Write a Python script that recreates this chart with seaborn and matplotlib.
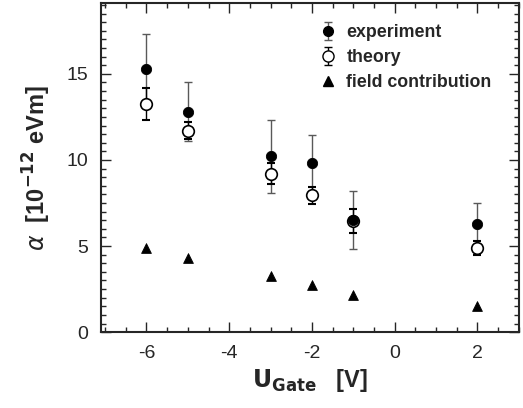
import matplotlib
matplotlib.use("Agg")
import matplotlib.pyplot as plt
import seaborn as sns
import numpy as np
from matplotlib.ticker import MultipleLocator
from matplotlib.lines import Line2D

# ---------------------------------------------------------
# Data
# ---------------------------------------------------------

gate_voltage = [-6, -5, -3, -2, -1, 2]

experiment = [15.3, 12.8, 10.2, 9.8, 6.5, 6.3]
experiment_err = [2.0, 1.7, 2.1, 1.65, 1.7, 1.2]

theory = [13.25, 11.7, 9.2, 7.95, 6.45, 4.9]
theory_err = [0.95, 0.5, 0.6, 0.5, 0.7, 0.4]

field_contribution = [4.9, 4.3, 3.25, 2.75, 2.15, 1.5]

# ---------------------------------------------------------
# Plot Style
# ---------------------------------------------------------

sns.set_style("ticks")
plt.rcParams["font.family"] = ["Liberation Sans", "DejaVu Sans"]
plt.rcParams["axes.unicode_minus"] = False

fig = plt.figure(figsize=(5.23, 4.08), dpi=100)
ax = fig.add_axes([0.193, 0.186, 0.799, 0.806])

# error bars
ax.errorbar(gate_voltage, experiment, yerr=experiment_err, fmt="none",
            ecolor="0.35", elinewidth=1.0, capsize=3, capthick=1.0, zorder=2)
ax.errorbar(gate_voltage, theory, yerr=theory_err, fmt="none",
            ecolor="black", elinewidth=1.0, capsize=3, capthick=1.5, zorder=2)

sns.scatterplot(x=gate_voltage, y=experiment, ax=ax, marker="o", s=55,
                color="black", edgecolor="black", zorder=4)
sns.scatterplot(x=gate_voltage, y=theory, ax=ax, marker="o", s=70,
                facecolor="white", edgecolor="black", linewidth=1.2, zorder=3)
sns.scatterplot(x=gate_voltage, y=field_contribution, ax=ax, marker="^", s=50,
                color="black", edgecolor="black", zorder=4)

ax.set_xlim(-7.1, 3.0)
ax.set_ylim(0, 19.1)
ax.xaxis.set_major_locator(MultipleLocator(2))
ax.xaxis.set_minor_locator(MultipleLocator(0.5))
ax.yaxis.set_major_locator(MultipleLocator(5))
ax.yaxis.set_minor_locator(MultipleLocator(0.5))

ax.tick_params(which="both", direction="in", top=True, right=True,
               labelsize=14, width=1.0)
ax.tick_params(which="major", length=7, pad=9)
ax.tick_params(which="minor", length=3.5)
for spine in ax.spines.values():
    spine.set_linewidth(1.5)

ax.set_xlabel(r"$\mathbf{U_{Gate}}$   [V]", fontsize=17, fontweight="bold")
ax.set_ylabel(r"$\alpha$  [10$^{\mathbf{-12}}$ eVm]", fontsize=17,
              fontweight="bold", labelpad=10)

# legend handles with error bars
h_exp = ax.errorbar([np.nan], [np.nan], yerr=[1], fmt="o", color="black",
                    ecolor="0.35", markersize=7, elinewidth=1.0, capsize=3)
h_theo = ax.errorbar([np.nan], [np.nan], yerr=[1], fmt="o", color="black",
                     markerfacecolor="white", markersize=8, elinewidth=1.0,
                     capsize=3)
h_field = Line2D([], [], marker="^", color="black", markersize=7,
                 linestyle="none")
ax.legend([h_exp, h_theo, h_field], ["experiment", "theory", "field contribution"],
          loc="upper left", bbox_to_anchor=(0.485, 0.985), frameon=False,
          prop={"weight": "bold", "size": 12.8}, handletextpad=0.5,
          labelspacing=0.45, handlelength=1.0)

plt.savefig("out.png", dpi=100)
plt.close()
